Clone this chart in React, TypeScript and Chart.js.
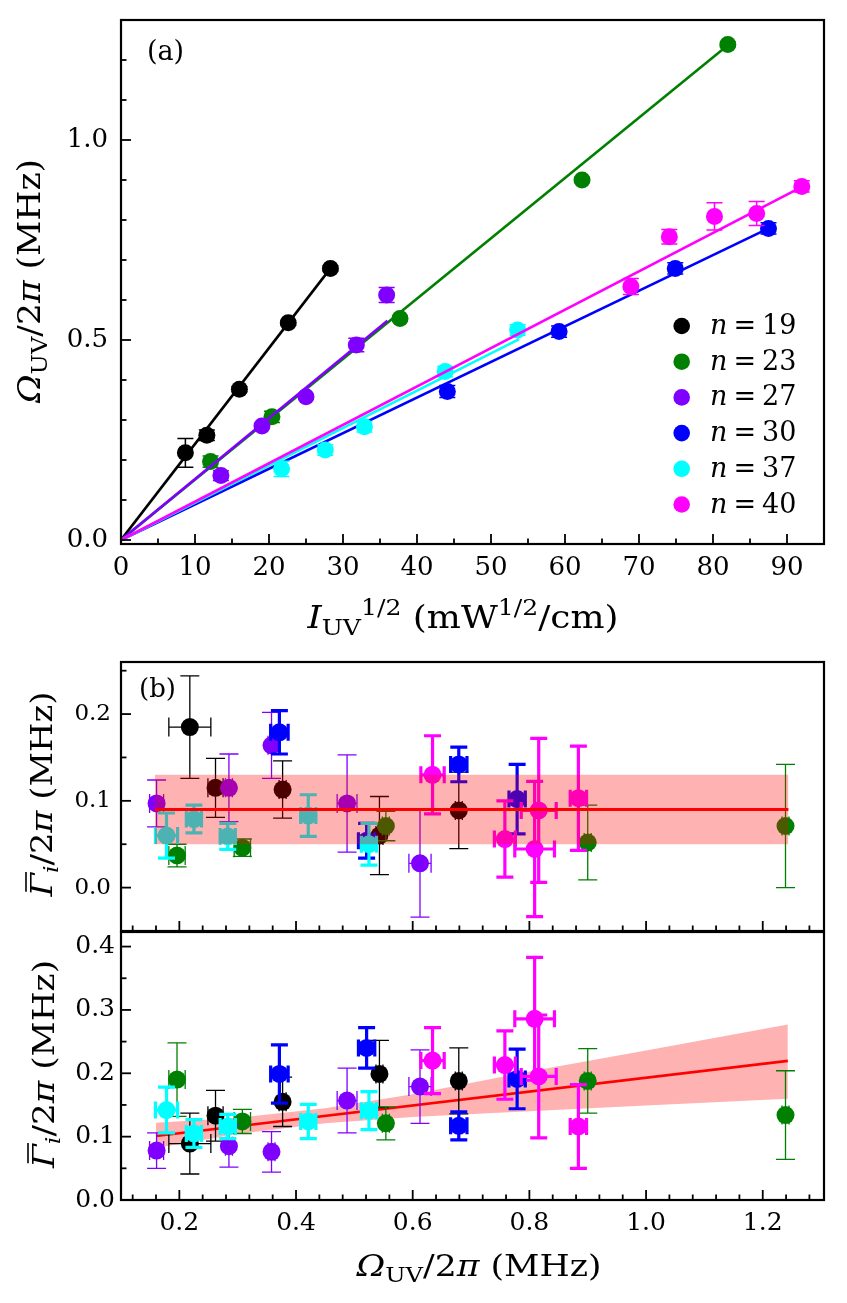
import React, { useEffect, useRef } from 'react';
import { Chart, registerables } from 'chart.js';

Chart.register(...registerables);

const FONT = "'DejaVu Serif', 'Liberation Serif', serif";

// ---------------- data ----------------
const seriesLabels = ['19', '23', '27', '30', '37', '40'];
const seriesColors = ['#000000', '#008000', '#8000ff', '#0000ff', '#00ffff', '#ff00ff'];
const seriesThickErr = [false, false, false, true, true, true];

// n = 19
const sqrtI19 = [8.7, 11.6, 16.0, 22.6, 28.3];
const omega19 = [0.218, 0.262, 0.377, 0.543, 0.679];
const omegaErr19 = [0.036, 0.013, 0.006, 0.006, 0.006];
const gammaB19 = [0.185, 0.115, 0.113, 0.06, 0.089];
const gammaBErr19 = [0.059, 0.034, 0.033, 0.045, 0.044];
const gammaC19 = [0.089, 0.133, 0.155, 0.199, 0.188];
const gammaCErr19 = [0.048, 0.04, 0.039, 0.053, 0.052];
const fitEnd19 = [28.3, 0.679];

// n = 23
const sqrtI23 = [12.1, 20.4, 37.7, 62.3, 82.0];
const omega23 = [0.196, 0.308, 0.554, 0.9, 1.239];
const omegaErr23 = [0.014, 0.014, 0.006, 0.006, 0.006];
const gammaB23 = [0.037, 0.046, 0.071, 0.052, 0.071];
const gammaBErr23 = [0.013, 0.01, 0.017, 0.043, 0.071];
const gammaC23 = [0.19, 0.124, 0.121, 0.188, 0.134];
const gammaCErr23 = [0.058, 0.019, 0.026, 0.051, 0.07];
const fitEnd23 = [82.0, 1.237];

// n = 27
const sqrtI27 = [13.5, 19.05, 25.0, 31.8, 35.9];
const omega27 = [0.161, 0.285, 0.358, 0.4875, 0.6125];
const omegaErr27 = [0.012, 0.006, 0.006, 0.017, 0.019];
const gammaB27 = [0.097, 0.115, 0.164, 0.097, 0.028];
const gammaBErr27 = [0.027, 0.039, 0.038, 0.056, 0.062];
const gammaC27 = [0.078, 0.085, 0.076, 0.157, 0.179];
const gammaCErr27 = [0.028, 0.033, 0.032, 0.051, 0.058];
const fitEnd27 = [36.0, 0.548];

// n = 30
const sqrtI30 = [44.1, 59.2, 74.9, 87.5];
const omega30 = [0.3715, 0.521, 0.679, 0.779];
const omegaErr30 = [0.015, 0.014, 0.014, 0.014];
const gammaB30 = [0.179, 0.054, 0.142, 0.102];
const gammaBErr30 = [0.025, 0.02, 0.02, 0.04];
const gammaC30 = [0.199, 0.24, 0.117, 0.191];
const gammaCErr30 = [0.046, 0.032, 0.022, 0.047];
const fitEnd30 = [87.5, 0.779];

// n = 37
const sqrtI37 = [21.7, 27.6, 32.9, 43.8, 53.6];
const omega37 = [0.178, 0.225, 0.283, 0.421, 0.525];
const omegaErr37 = [0.019, 0.013, 0.013, 0.013, 0.013];
const gammaB37 = [0.06, 0.079, 0.059, 0.083, 0.05];
const gammaBErr37 = [0.026, 0.016, 0.015, 0.024, 0.024];
const gammaC37 = [0.142, 0.105, 0.116, 0.124, 0.141];
const gammaCErr37 = [0.036, 0.022, 0.019, 0.027, 0.03];
const fitEnd37 = [53.8, 0.502];

// n = 40
const sqrtI40 = [68.9, 74.1, 80.2, 85.9, 92.0];
const omega40 = [0.634, 0.758, 0.809, 0.816, 0.884];
const omegaErr40 = [0.02, 0.018, 0.034, 0.03, 0.014];
const gammaB40 = [0.13, 0.056, 0.0445, 0.089, 0.103];
const gammaBErr40 = [0.045, 0.044, 0.078, 0.083, 0.06];
const gammaC40 = [0.22, 0.213, 0.286, 0.195, 0.116];
const gammaCErr40 = [0.052, 0.054, 0.097, 0.097, 0.066];
const fitEnd40 = [92.0, 0.883];

// panel (b) upper: constant fit and band
const bandBX = [0.158, 1.244];
const bandBLow = [0.05, 0.05];
const bandBHigh = [0.13, 0.13];
const fitBY = [0.09, 0.09];

// panel (b) lower: linear fit and confidence band
const bandCX = [0.16, 0.3, 0.45, 0.6, 0.8, 1.0, 1.243];
const bandCLow = [0.082, 0.104, 0.121, 0.131, 0.14, 0.149, 0.16];
const bandCHigh = [0.122, 0.13, 0.145, 0.167, 0.203, 0.236, 0.277];
const fitCX = [0.16, 1.243];
const fitCY = [0.101, 0.2196];

const SERIES = [
  { I: sqrtI19, W: omega19, We: omegaErr19, Gb: gammaB19, Gbe: gammaBErr19, Gc: gammaC19, Gce: gammaCErr19, fit: fitEnd19 },
  { I: sqrtI23, W: omega23, We: omegaErr23, Gb: gammaB23, Gbe: gammaBErr23, Gc: gammaC23, Gce: gammaCErr23, fit: fitEnd23 },
  { I: sqrtI27, W: omega27, We: omegaErr27, Gb: gammaB27, Gbe: gammaBErr27, Gc: gammaC27, Gce: gammaCErr27, fit: fitEnd27 },
  { I: sqrtI30, W: omega30, We: omegaErr30, Gb: gammaB30, Gbe: gammaBErr30, Gc: gammaC30, Gce: gammaCErr30, fit: fitEnd30 },
  { I: sqrtI37, W: omega37, We: omegaErr37, Gb: gammaB37, Gbe: gammaBErr37, Gc: gammaC37, Gce: gammaCErr37, fit: fitEnd37 },
  { I: sqrtI40, W: omega40, We: omegaErr40, Gb: gammaB40, Gbe: gammaBErr40, Gc: gammaC40, Gce: gammaCErr40, fit: fitEnd40 },
];

// ---------------- drawing helpers ----------------
type Seg = { t: string; it?: boolean; sub?: boolean; sup?: boolean; bar?: boolean };
type TitleSpec = { segs: Seg[]; x: number; y: number; size: number; width?: number; rot?: boolean };

function drawRich(ctx: CanvasRenderingContext2D, spec: TitleSpec) {
  const S = spec.size;
  const fontFor = (s: Seg) => `${s.it ? 'italic ' : ''}${s.sub || s.sup ? S * 0.7 : S}px ${FONT}`;
  const widths = spec.segs.map((s) => {
    ctx.font = fontFor(s);
    return ctx.measureText(s.t).width;
  });
  const total = widths.reduce((a, b) => a + b, 0);
  const sx = spec.width ? spec.width / total : 1;
  ctx.save();
  ctx.translate(spec.x, spec.y);
  if (spec.rot) ctx.rotate(-Math.PI / 2);
  ctx.scale(sx, 1);
  ctx.fillStyle = '#000';
  ctx.strokeStyle = '#000';
  ctx.textBaseline = 'alphabetic';
  ctx.textAlign = 'left';
  let x = -total / 2;
  const base = S * 0.36;
  spec.segs.forEach((s, i) => {
    ctx.font = fontFor(s);
    let y = base;
    if (s.sub) y += S * 0.22;
    if (s.sup) y -= S * 0.4;
    ctx.fillText(s.t, x, y);
    if (s.bar) {
      ctx.lineWidth = 1.6;
      ctx.beginPath();
      ctx.moveTo(x + widths[i] * 0.2, y - S * 0.86);
      ctx.lineTo(x + widths[i] * 1.05, y - S * 0.86);
      ctx.stroke();
    }
    x += widths[i];
  });
  ctx.restore();
}

const errorBars = {
  id: 'errorBars',
  beforeDatasetDraw(chart: any, args: any) {
    const ds: any = chart.data.datasets[args.index];
    if (!ds.yErr && !ds.xErr) return;
    const meta = args.meta;
    const xs = chart.scales[meta.xAxisID];
    const ys = chart.scales[meta.yAxisID];
    const a = chart.chartArea;
    const ctx = chart.ctx as CanvasRenderingContext2D;
    ctx.save();
    ctx.beginPath();
    ctx.rect(a.left, a.top, a.right - a.left, a.bottom - a.top);
    ctx.clip();
    ctx.strokeStyle = ds.backgroundColor;
    ctx.lineWidth = ds.errWidth;
    const cap = ds.errCap;
    ds.data.forEach((p: any, i: number) => {
      const px = xs.getPixelForValue(p.x);
      const py = ys.getPixelForValue(p.y);
      ctx.beginPath();
      if (ds.yErr) {
        const e = ds.yErr[i];
        const y1 = ys.getPixelForValue(p.y + e);
        const y2 = ys.getPixelForValue(p.y - e);
        ctx.moveTo(px, y1); ctx.lineTo(px, y2);
        ctx.moveTo(px - cap, y1); ctx.lineTo(px + cap, y1);
        ctx.moveTo(px - cap, y2); ctx.lineTo(px + cap, y2);
      }
      if (ds.xErr) {
        const e = ds.xErr[i];
        const x1 = xs.getPixelForValue(p.x - e);
        const x2 = xs.getPixelForValue(p.x + e);
        ctx.moveTo(x1, py); ctx.lineTo(x2, py);
        ctx.moveTo(x1, py - cap); ctx.lineTo(x1, py + cap);
        ctx.moveTo(x2, py - cap); ctx.lineTo(x2, py + cap);
      }
      ctx.stroke();
    });
    ctx.restore();
  },
};

const frameTicks = {
  id: 'frameTicks',
  afterDatasetsDraw(chart: any, _args: any, opts: any) {
    const ctx = chart.ctx as CanvasRenderingContext2D;
    const a = chart.chartArea;
    const xs = chart.scales.x;
    const ys = chart.scales.y;
    ctx.save();
    ctx.strokeStyle = '#000';
    ctx.lineWidth = 1.8;
    const near = (v: number, step: number) => Math.abs(v / step - Math.round(v / step)) < 1e-6;
    const k0x = Math.ceil(xs.min / opts.xMinor - 1e-9);
    const k1x = Math.floor(xs.max / opts.xMinor + 1e-9);
    for (let k = k0x; k <= k1x; k++) {
      const v = k * opts.xMinor;
      const px = xs.getPixelForValue(v);
      const len = near(v, opts.xMajor) ? 10 : 5.5;
      ctx.beginPath();
      ctx.moveTo(px, a.bottom);
      ctx.lineTo(px, a.bottom - len);
      ctx.stroke();
    }
    const k0y = Math.ceil(ys.min / opts.yMinor - 1e-9);
    const k1y = Math.floor(ys.max / opts.yMinor + 1e-9);
    for (let k = k0y; k <= k1y; k++) {
      const v = k * opts.yMinor;
      const py = ys.getPixelForValue(v);
      const len = near(v, opts.yMajor) ? 10 : 5.5;
      ctx.beginPath();
      ctx.moveTo(a.left, py);
      ctx.lineTo(a.left + len, py);
      ctx.stroke();
    }
    ctx.lineWidth = 2.2;
    ctx.strokeRect(a.left, a.top, a.right - a.left, a.bottom - a.top);
    ctx.restore();
  },
};

const annot = {
  id: 'annot',
  afterDraw(chart: any, _args: any, opts: any) {
    const ctx = chart.ctx as CanvasRenderingContext2D;
    (opts.titles || []).forEach((t: TitleSpec) => drawRich(ctx, t));
    (opts.labels || []).forEach((l: any) => {
      ctx.save();
      ctx.font = `${l.size}px ${FONT}`;
      ctx.fillStyle = '#000';
      ctx.textAlign = 'center';
      ctx.textBaseline = 'middle';
      ctx.fillText(l.text, l.x, l.y);
      ctx.restore();
    });
    const lg = opts.legend;
    if (lg) {
      ctx.save();
      lg.items.forEach((it: any, i: number) => {
        const y = lg.y + i * lg.dy;
        ctx.fillStyle = it.color;
        ctx.beginPath();
        ctx.arc(lg.x, y, lg.r, 0, Math.PI * 2);
        ctx.fill();
        ctx.fillStyle = '#000';
        ctx.textBaseline = 'alphabetic';
        ctx.textAlign = 'left';
        let tx = lg.tx;
        ctx.font = `italic ${lg.size}px ${FONT}`;
        ctx.fillText('n', tx, y + lg.base);
        tx += ctx.measureText('n').width + lg.gap;
        ctx.font = `${lg.size}px ${FONT}`;
        ctx.fillText('=', tx, y + lg.base);
        tx += ctx.measureText('=').width + lg.gap;
        ctx.fillText(it.label, tx, y + lg.base);
      });
      ctx.restore();
    }
  },
};

const omegaTitle: Seg[] = [{ t: 'Ω', it: true }, { t: 'UV', sub: true }, { t: '/2' }, { t: 'π', it: true }, { t: ' (MHz)' }];
const gammaTitle: Seg[] = [{ t: 'Γ', it: true, bar: true }, { t: 'i', it: true, sub: true }, { t: '/2' }, { t: 'π', it: true }, { t: ' (MHz)' }];
const intensityTitle: Seg[] = [
  { t: 'I', it: true }, { t: 'UV', sub: true }, { t: '1/2', sup: true }, { t: ' (mW' }, { t: '1/2', sup: true }, { t: '/cm)' },
];

const tickFont = (size: number) => ({ family: FONT, size });
const noGrid = { display: false, drawTicks: false, tickLength: 0 };

const fitY = (w: number) => (sc: any) => { sc.width = w; sc.paddingTop = 0; sc.paddingBottom = 0; };
const fitX = (h: number) => (sc: any) => { sc.height = h; sc.paddingLeft = 0; sc.paddingRight = 0; };

function configA(): any {
  const datasets: any[] = [];
  SERIES.forEach((s, k) => {
    datasets.push({
      type: 'scatter',
      data: s.I.map((x, i) => ({ x, y: s.W[i] })),
      backgroundColor: seriesColors[k],
      borderWidth: 0,
      pointRadius: 8.5,
      pointHoverRadius: 8.5,
      yErr: s.We,
      errWidth: 1.5,
      errCap: 8,
      order: 100 - 2 * k,
    });
    datasets.push({
      type: 'line',
      data: [{ x: 0, y: 0 }, { x: s.fit[0], y: s.fit[1] }],
      borderColor: seriesColors[k],
      borderWidth: 2.6,
      pointRadius: 0,
      fill: false,
      order: 99 - 2 * k,
    });
  });
  return {
    type: 'scatter',
    data: { datasets },
    plugins: [errorBars, frameTicks, annot],
    options: {
      responsive: false,
      animation: false,
      events: [],
      layout: { autoPadding: false, padding: { top: 20, right: 23, left: 0, bottom: 0 } },
      scales: {
        x: {
          type: 'linear', min: 0, max: 95,
          grid: noGrid, border: { display: false },
          ticks: { stepSize: 10, includeBounds: false, autoSkip: false, maxRotation: 0, padding: 9, color: '#000', font: tickFont(26), callback: (v: number) => String(v) },
          afterFit: fitX(106),
        },
        y: {
          type: 'linear', min: -0.01, max: 1.3,
          grid: noGrid, border: { display: false },
          ticks: { stepSize: 0.5, includeBounds: false, autoSkip: false, padding: 13, color: '#000', font: tickFont(26), callback: (v: number) => v.toFixed(1) },
          afterFit: fitY(121),
        },
      },
      plugins: {
        legend: { display: false },
        tooltip: { enabled: false },
        frameTicks: { xMajor: 10, xMinor: 5, yMajor: 0.5, yMinor: 0.1 },
        annot: {
          titles: [
            { segs: intensityTitle, x: 463, y: 616, size: 32, width: 311 },
            { segs: omegaTitle, x: 28, y: 281, size: 32, width: 244, rot: true },
          ],
          labels: [{ text: '(a)', x: 165.5, y: 52.5, size: 27 }],
          legend: {
            x: 681.7, y: 326, dy: 35.7, r: 8.3, tx: 710, size: 27, gap: 6, base: 8,
            items: seriesLabels.map((l, k) => ({ label: l, color: seriesColors[k] })),
          },
        },
      },
    },
  };
}

function pointSets(which: 'b' | 'c', orderBase: number): any[] {
  return SERIES.map((s, k) => ({
    type: 'scatter',
    data: s.W.map((x, i) => ({ x, y: which === 'b' ? s.Gb[i] : s.Gc[i] })),
    backgroundColor: seriesColors[k],
    borderWidth: 0,
    pointRadius: 9,
    pointHoverRadius: 9,
    yErr: which === 'b' ? s.Gbe : s.Gce,
    xErr: s.We,
    errWidth: seriesThickErr[k] ? 3.2 : 1.3,
    errCap: seriesThickErr[k] ? 8.5 : 9.5,
    order: orderBase - k,
  }));
}

function lineSet(xs: number[], ys: number[], extra: any): any {
  return {
    type: 'line',
    data: xs.map((x, i) => ({ x, y: ys[i] })),
    pointRadius: 0,
    borderWidth: 0,
    fill: false,
    ...extra,
  };
}

const xBC = (showLabels: boolean, height: number) => ({
  type: 'linear', min: 0.1, max: 1.305,
  grid: noGrid, border: { display: false },
  ticks: { display: showLabels, stepSize: 0.2, includeBounds: false, autoSkip: false, maxRotation: 0, padding: 8, color: '#000', font: tickFont(25), callback: (v: number) => v.toFixed(1) },
  afterFit: fitX(height),
});

function configB(): any {
  const datasets: any[] = [
    ...pointSets('b', 20),
    lineSet(bandBX, bandBLow, { order: -5 }),
    lineSet(bandBX, bandBHigh, { order: -6, fill: '-1', backgroundColor: 'rgba(255,0,0,0.3)' }),
    lineSet(bandBX, fitBY, { order: -7, borderColor: '#ff0000', borderWidth: 3 }),
  ];
  return {
    type: 'scatter',
    data: { datasets },
    plugins: [errorBars, frameTicks, annot],
    options: {
      responsive: false,
      animation: false,
      events: [],
      layout: { autoPadding: false, padding: { top: 12, right: 23, left: 0, bottom: 0 } },
      scales: {
        x: xBC(false, 1),
        y: {
          type: 'linear', min: -0.05, max: 0.26,
          grid: noGrid, border: { display: false },
          ticks: { stepSize: 0.1, includeBounds: false, autoSkip: false, padding: 10, color: '#000', font: tickFont(23), callback: (v: number) => v.toFixed(1) },
          afterFit: fitY(121),
        },
      },
      plugins: {
        legend: { display: false },
        tooltip: { enabled: false },
        frameTicks: { xMajor: 0.2, xMinor: 0.04, yMajor: 0.1, yMinor: 0.05 },
        annot: {
          titles: [{ segs: gammaTitle, x: 41, y: 144, size: 30, width: 205, rot: true }],
          labels: [{ text: '(b)', x: 157.5, y: 40, size: 26 }],
        },
      },
    },
  };
}

function configC(): any {
  const datasets: any[] = [
    ...pointSets('c', 20),
    lineSet(bandCX, bandCLow, { order: 61 }),
    lineSet(bandCX, bandCHigh, { order: 60, fill: '-1', backgroundColor: 'rgba(255,0,0,0.3)' }),
    lineSet(fitCX, fitCY, { order: 59, borderColor: '#ff0000', borderWidth: 2.6 }),
  ];
  return {
    type: 'scatter',
    data: { datasets },
    plugins: [errorBars, frameTicks, annot],
    options: {
      responsive: false,
      animation: false,
      events: [],
      layout: { autoPadding: false, padding: { top: 1, right: 23, left: 0, bottom: 0 } },
      scales: {
        x: xBC(true, 103),
        y: {
          type: 'linear', min: 0, max: 0.423,
          grid: noGrid, border: { display: false },
          ticks: { stepSize: 0.1, includeBounds: false, autoSkip: false, padding: 6, color: '#000', font: tickFont(25), callback: (v: number) => v.toFixed(1) },
          afterFit: fitY(121),
        },
      },
      plugins: {
        legend: { display: false },
        tooltip: { enabled: false },
        frameTicks: { xMajor: 0.2, xMinor: 0.04, yMajor: 0.1, yMinor: 0.05 },
        annot: {
          titles: [
            { segs: gammaTitle, x: 43, y: 133, size: 30, width: 208, rot: true },
            { segs: omegaTitle, x: 479, y: 334.5, size: 29, width: 245 },
          ],
        },
      },
    },
  };
}

export default function App() {
  const refA = useRef<HTMLCanvasElement>(null);
  const refB = useRef<HTMLCanvasElement>(null);
  const refC = useRef<HTMLCanvasElement>(null);
  useEffect(() => {
    Chart.defaults.font.family = FONT;
    Chart.defaults.color = '#000';
    const charts = [
      new Chart(refA.current as HTMLCanvasElement, configA()),
      new Chart(refB.current as HTMLCanvasElement, configB()),
      new Chart(refC.current as HTMLCanvasElement, configC()),
    ];
    return () => charts.forEach((c) => c.destroy());
  }, []);
  return (
    <div style={{ position: 'absolute', left: 0, top: 0, width: 847, height: 1303, background: '#fff', overflow: 'hidden' }}>
      <canvas ref={refA} width={847} height={650} style={{ position: 'absolute', left: 0, top: 0 }} />
      <canvas ref={refB} width={847} height={282} style={{ position: 'absolute', left: 0, top: 650 }} />
      <canvas ref={refC} width={847} height={372} style={{ position: 'absolute', left: 0, top: 931 }} />
    </div>
  );
}
